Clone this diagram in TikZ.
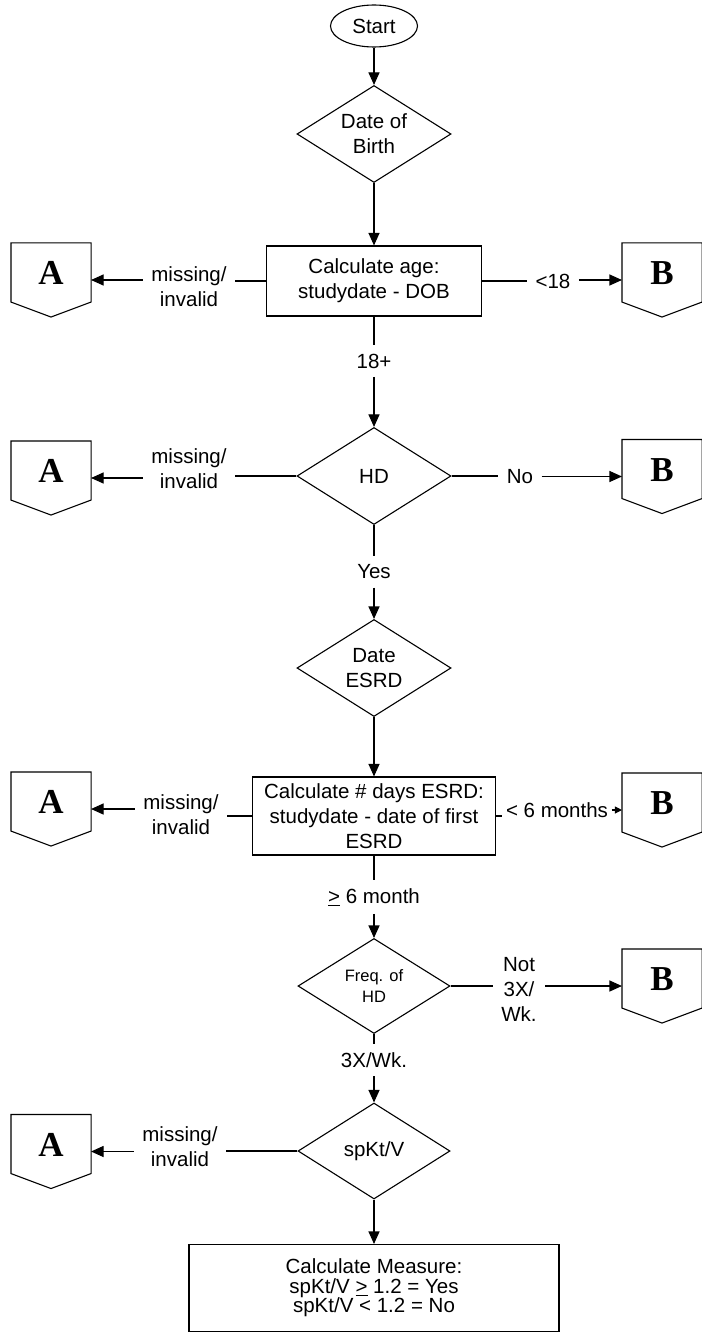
\documentclass[tikz,border=0pt]{standalone}
\usepackage{fontspec}
\setmainfont{Liberation Sans}
\newfontfamily\connfont{Liberation Serif}
\usetikzlibrary{arrows.meta,shapes.geometric}

\begin{document}
\begin{tikzpicture}[x=1pt,y=-1pt,line width=1.1pt,
	txt/.style={font=\fontsize{20.5}{25}\selectfont,align=center},
	proc/.style={txt,draw,rectangle,inner sep=0pt},
	dec/.style={txt,draw,diamond,aspect=1.6,inner sep=0pt,minimum width=154pt,minimum height=97pt},
	conn/.style={font=\connfont\bfseries\fontsize{35}{35}\selectfont,minimum width=79pt,minimum height=73pt,inner sep=0pt,text height=23pt,text depth=14pt},
	lbl/.style={txt,inner xsep=8pt,inner ysep=8pt},
	arr/.style={-{Triangle[length=12.5pt,width=11pt]}}]
				\useasboundingbox (0,0) rectangle (701,1332);
				
				\node[txt,draw,ellipse,minimum width=87pt,minimum height=42pt,inner sep=0pt] (start) at (374,26) {Start};
				\node[dec] (dob) at (374,134) {Date of\\Birth};
				\draw[arr] (start) -- (dob);
				
				% age
				\node[proc,minimum width=215pt,minimum height=70pt] (age) at (374,281) {Calculate age:\\studydate - DOB};
				\node[conn] (a1) at (51,280) {A};
				\node[conn] (b1) at (662,280) {B};
				\node[lbl] (miss1) at (189,287) {missing/\\invalid};
				\node[lbl] (lt18) at (553,281) {<18};
				\draw[arr] (dob) -- (age);
				\draw (age.west) -- (age.west -| miss1.east);
				\draw[arr] (miss1.west |- a1) -- (a1);
				\draw (age.east) -- (age.east -| lt18.west);
				\draw[arr] (lt18.east |- b1) -- (b1);
				
				\node[lbl] (ge18) at (374,361) {18+};
				\draw (age) -- (ge18);
				
				% HD
				\node[dec] (hd) at (374,476) {HD};
				\node[conn] (a2) at (51,478) {A};
				\node[conn] (b2) at (662,476.5) {B};
				\node[lbl] (miss2) at (189,469) {missing/\\invalid};
				\node[lbl] (no) at (520,477) {No};
				\draw[arr] (ge18) -- (hd);
				\draw (hd.west) -- (hd.west -| miss2.east);
				\draw[arr] (miss2.west |- a2) -- (a2);
				\draw (hd.east) -- (hd.east -| no.west);
				\draw[arr] (no.east |- b2) -- (b2);
				
				\node[lbl] (yes) at (374,572) {Yes};
				\node[dec] (dateesrd) at (374,668) {Date\\ESRD};
				\draw (hd) -- (yes);
				\draw[arr] (yes) -- (dateesrd);
				
				% days ESRD
				\node[proc,minimum width=243pt,minimum height=78pt] (days) at (374,816) {Calculate \# days ESRD:\\studydate - date of first\\ESRD};
				\node[conn] (a3) at (51,809) {A};
				\node[conn] (b3) at (662,810) {B};
				\node[lbl] (miss3) at (181,815) {missing/\\invalid};
				\node[lbl,inner xsep=3pt] (lt6) at (557,810) {< 6 months};
				\draw[arr] (dateesrd) -- (days);
				\draw (days.west) -- (days.west -| miss3.east);
				\draw[arr] (miss3.west |- a3) -- (a3);
				\draw (days.east) -- (days.east -| lt6.west);
				\draw[-{Triangle[length=7pt,width=7pt]}] (lt6.east |- b3) -- (b3);
				
				\node[lbl] (ge6) at (374,897) {\underline{>} 6 month};
				\draw (days) -- (ge6);
				
				% frequency
				\node[dec,font=\fontsize{16.5}{21}\selectfont,minimum width=152pt,minimum height=95pt] (freq) at (374,986) {Freq. of\\HD};
				\node[conn] (b4) at (662,986) {B};
				\node[lbl] (not3x) at (519,989) {Not\\3X/\\Wk.};
				\draw[arr] (ge6) -- (freq);
				\draw (freq.east) -- (freq.east -| not3x.west);
				\draw[arr] (not3x.east |- b4) -- (b4);
				
				\node[lbl] (three) at (374,1060) {3X/Wk.};
				\draw (freq) -- (three);
				
				% spKt/V
				\node[dec,minimum width=152pt,minimum height=96pt] (spktv) at (374,1151) {spKt/V};
				\node[conn] (a5) at (51,1151.5) {A};
				\node[lbl] (miss5) at (180,1147) {missing/\\invalid};
				\draw[arr] (three) -- (spktv);
				\draw (spktv.west) -- (spktv.west -| miss5.east);
				\draw[arr] (miss5.west |- a5) -- (a5);
				
				\node[proc,font=\fontsize{20.5}{19.5}\selectfont,minimum width=370pt,minimum height=87pt] (measure) at (374,1288) {Calculate Measure:\\spKt/V \underline{>} 1.2 = Yes\\spKt/V < 1.2 = No};
				\draw[arr] (spktv) -- (measure);
				
				% off-page connectors
				\foreach \n in {a1,a2,a3,a5,b1,b2,b3,b4}
					\draw (\n.north west) -- (\n.north east) -- ([yshift=15pt]\n.south east) -- (\n.south) -- ([yshift=15pt]\n.south west) -- cycle;
			\end{tikzpicture}
\end{document}
